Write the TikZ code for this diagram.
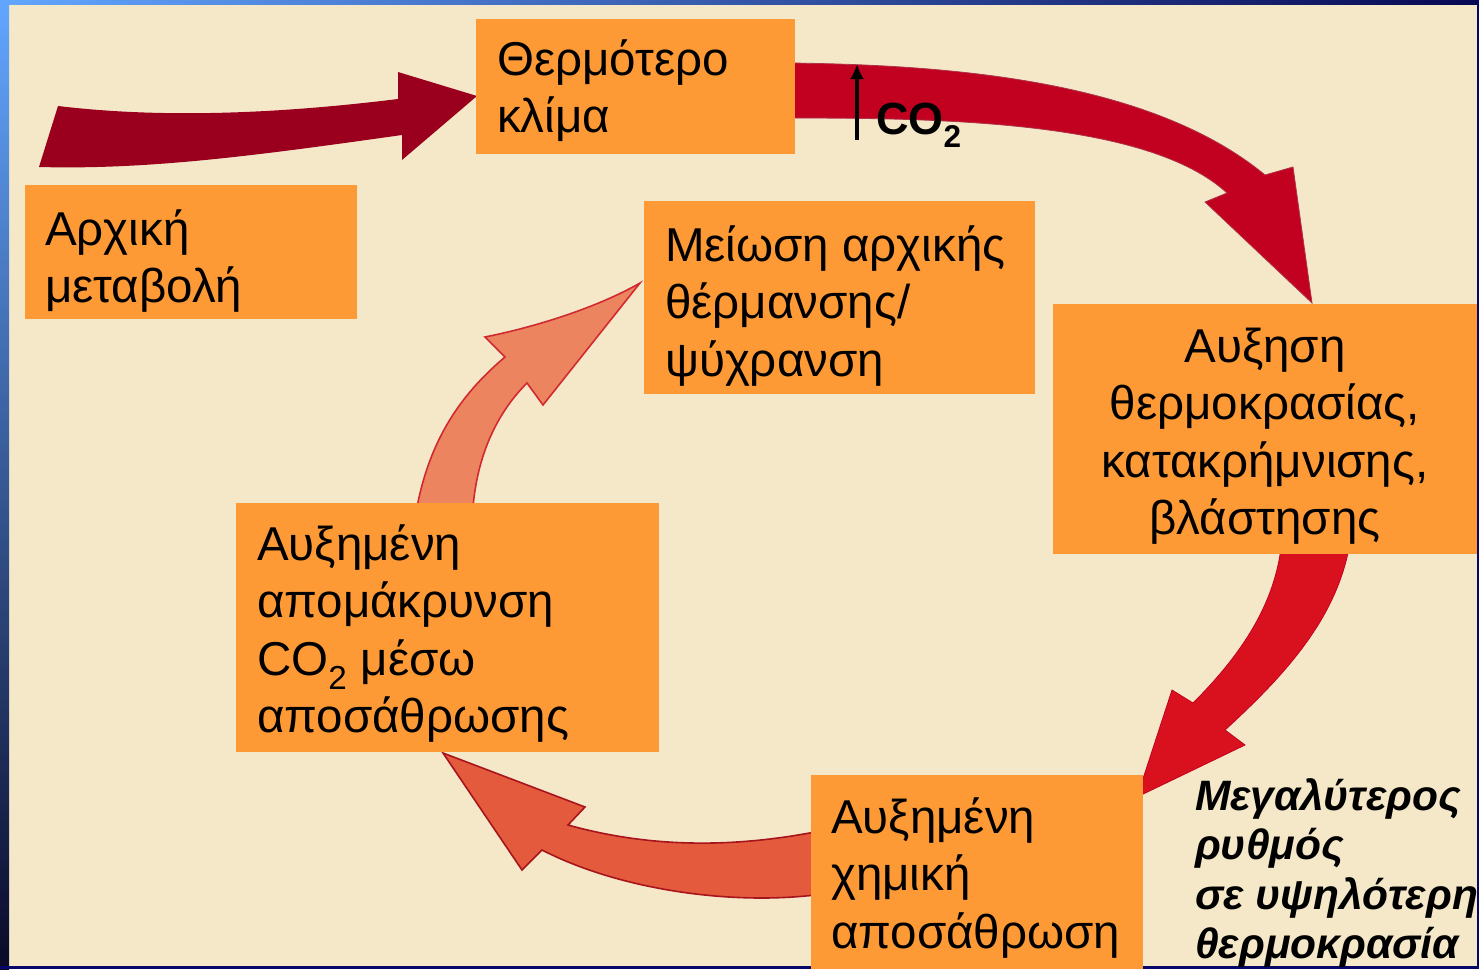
\documentclass[tikz,border=0pt]{standalone}
\usepackage{fontspec}
\setmainfont{Liberation Sans}
\usetikzlibrary{arrows.meta}
\definecolor{bg}{HTML}{F5E8C9}
\definecolor{boxor}{HTML}{FE9A36}
\definecolor{arrA}{HTML}{9A001E}
\definecolor{arrB}{HTML}{C2001F}
\definecolor{arrC}{HTML}{D9111F}
\definecolor{arrD}{HTML}{E35B3C}
\definecolor{arrDl}{HTML}{A8141C}
\definecolor{arrE}{HTML}{EC8460}
\definecolor{arrEl}{HTML}{D02A30}
\definecolor{frLight}{HTML}{62A6FF}
\definecolor{frMid}{HTML}{4868E8}
\definecolor{frDark}{HTML}{0A0A28}
\tikzset{
  box/.style={draw=none, fill=boxor, rectangle, inner sep=0pt, anchor=north west},
  txt/.style={inner sep=0pt, anchor=base west, font=\fontsize{47.5}{57.5}\selectfont},
  itxt/.style={inner sep=0pt, anchor=base west, font=\fontsize{42.5}{49.5}\selectfont\bfseries\itshape},
}
\begin{document}
\begin{tikzpicture}[x=1pt,y=-1pt]
\useasboundingbox (0,0) rectangle (1479,969);
% background and frame
\fill[bg] (0,0) rectangle (1479,969);
\shade[top color=frLight, middle color=frMid, bottom color=frDark] (0,0) rectangle (9,969);
\shade[left color=frLight, middle color=cyan!60!blue!70, right color=frDark!80!blue] (0,0) rectangle (1479,4);
\fill[frDark!70!blue] (0,966) rectangle (1479,969);
\fill[frDark!70!blue] (1477,0) rectangle (1479,969);

% arrows (drawn below boxes)
\fill[arrA] (58,106) .. controls (150,117) and (260,116) .. (398,99) -- (398,72) -- (477,96)
  -- (402,160) -- (402,135) .. controls (260,155) and (150,170) .. (39,167) -- cycle;
\filldraw[fill=arrB, draw=arrA!80, line width=0.8pt] (790,63) .. controls (950,65) and (1150,80) .. (1265,175)
  -- (1293,167) -- (1312,303) -- (1205,202) -- (1227,193)
  .. controls (1150,122) and (950,118) .. (790,118) -- cycle;
\filldraw[fill=arrC, draw=arrB, line width=0.8pt] (1281,548) .. controls (1273,610) and (1236,660) .. (1193,703)
  -- (1172,690) -- (1137,797) -- (1245,745) -- (1225,730)
  .. controls (1285,675) and (1335,620) .. (1349,548) -- cycle;
\filldraw[fill=arrD, draw=arrDl, line width=1.6pt] (815,832) .. controls (720,850) and (640,845) .. (568,825)
  -- (585,807) -- (443,753) -- (522,870) -- (542,850)
  .. controls (620,890) and (730,905) .. (815,895) -- cycle;
\filldraw[fill=arrE, draw=arrEl, line width=1.6pt] (417,507) .. controls (430,440) and (460,395) .. (505,357)
  -- (485,337) .. controls (540,326) and (600,306) .. (640,283) -- (543,405) -- (527,383)
  .. controls (500,410) and (478,450) .. (473,507) -- cycle;

% boxes
\node[box, minimum width=319pt, minimum height=135pt] (b1) at (476,19) {};
\node[box, minimum width=332pt, minimum height=134pt] (b2) at (25,185) {};
\node[box, minimum width=391pt, minimum height=193pt] (b3) at (644,201) {};
\node[box, minimum width=424pt, minimum height=250pt] (b4) at (1053,304) {};
\node[box, minimum width=423pt, minimum height=249pt] (b5) at (236,503) {};
\node[box, minimum width=332pt, minimum height=194pt] (b6) at (811,775) {};

% texts
\node[txt] (t1) at (497,75) {\parbox[t]{300pt}{Θερμότερο\\κλίμα}};
\node[txt] (t2) at (45,245) {\parbox[t]{310pt}{Αρχική\\μεταβολή}};
\node[txt] (t3) at (665,261) {\parbox[t]{370pt}{Μείωση αρχικής\\θέρμανσης/\\ψύχρανση}};
\node[txt, anchor=base] (t4) at (1265,362) {\parbox[t]{420pt}{\centering Αυξηση\\θερμοκρασίας,\\κατακρήμνισης,\\βλάστησης}};
\node[txt] (t5) at (257,560) {\parbox[t]{400pt}{Αυξημένη\\απομάκρυνση\\CO\textsubscript{2} μέσω\\αποσάθρωσης}};
\node[txt] (t6) at (831,833) {\parbox[t]{320pt}{Αυξημένη\\χημική\\αποσάθρωση}};
\node[itxt] (t7) at (1195,810) {\parbox[t]{300pt}{Μεγαλύτερος\\ρυθμός\\σε υψηλότερη\\θερμοκρασία}};

% CO2 marker
\coordinate (co2a) at (857,140);
\coordinate (co2b) at (857,64);
\draw[line width=3.5pt, -{Latex[length=15pt,width=14pt]}] (co2a) -- (co2b);
\node[inner sep=0pt, anchor=base west, font=\fontsize{45}{50}\selectfont\bfseries] (co2) at (876,134) {CO\textsubscript{2}};
\end{tikzpicture}
\end{document}
